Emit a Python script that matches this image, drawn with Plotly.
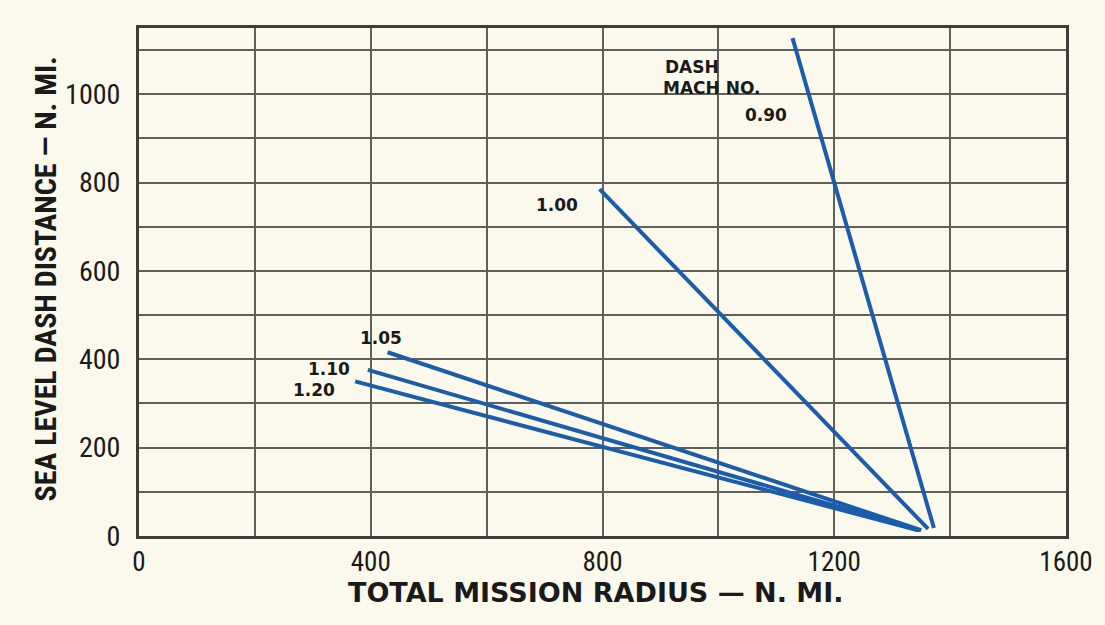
import plotly.graph_objects as go

# Data
mach_numbers = ["0.90", "1.00", "1.05", "1.10", "1.20"]
radius_start = [1128, 795, 429, 395, 373]
dist_start = [1127, 785, 416, 376, 350]
radius_end = [1372, 1362, 1350, 1347, 1345]
dist_end = [18, 16, 13, 13, 13]

label_x = [1083, 722, 417, 328, 302]
label_y = [953, 749, 448, 378, 330]

header_lines = ["DASH", "MACH NO."]
header_x = [955, 988]
header_y = [1062, 1014]

x_ticks = [0, 400, 800, 1200, 1600]
y_ticks = [0, 200, 400, 600, 800, 1000]

BG = "#FBF9EB"
GRID = "#60605a"
BORDER = "#3c3c38"
LINE = "#1b5dab"
TXT = "#1a1a1a"
COND = "Roboto Condensed, Liberation Sans Narrow, sans-serif"
WIDE = "DejaVu Sans, Verdana, sans-serif"

fig = go.Figure()
for m, xs, ys, xe, ye in zip(mach_numbers, radius_start, dist_start, radius_end, dist_end):
    fig.add_trace(go.Scatter(x=[xs, xe], y=[ys, ye], mode="lines", name=m,
                             line=dict(color=LINE, width=4), showlegend=False))

annotations = []
for m, lx, ly in zip(mach_numbers, label_x, label_y):
    annotations.append(dict(x=lx, y=ly, xref="x", yref="y", text=m, showarrow=False,
                            font=dict(family=WIDE, size=17, color=TXT, weight="bold")))
for t, hx, hy in zip(header_lines, header_x, header_y):
    annotations.append(dict(x=hx, y=hy, xref="x", yref="y", text=t, showarrow=False,
                            font=dict(family=WIDE, size=17, color=TXT, weight="bold")))
# axis titles
annotations.append(dict(x=(598 - 139) / 932, y=(536 - 592) / 508, xref="paper", yref="paper",
                        xanchor="center", yanchor="middle",
                        text="TOTAL MISSION RADIUS — N. MI.", showarrow=False,
                        font=dict(family=WIDE, size=27, color=TXT, weight="bold")))
annotations.append(dict(x=(44 - 139) / 932, y=(536 - 279) / 508, xref="paper", yref="paper",
                        xanchor="center", yanchor="middle", textangle=-90,
                        text="SEA LEVEL DASH DISTANCE — N. MI.", showarrow=False,
                        font=dict(family=COND, size=30, color=TXT, weight="bold")))

fig.update_layout(
    width=1097, height=617,
    margin=dict(l=131, r=34, t=20, b=89),
    paper_bgcolor=BG, plot_bgcolor=BG,
    annotations=annotations,
    xaxis=dict(range=[0, 1600], tickvals=x_ticks, ticktext=[str(v) for v in x_ticks],
               showgrid=True, gridcolor=GRID, gridwidth=1.6,
               minor=dict(dtick=200, tick0=0, showgrid=True, gridcolor=GRID, gridwidth=1.6),
               showline=True, linecolor=BORDER, linewidth=3, mirror=True,
               zeroline=False, ticks="", ticklabelstandoff=0,
               tickfont=dict(family=COND, size=27, color=TXT)),
    yaxis=dict(range=[0, 1150], tickvals=y_ticks, ticktext=[str(v) for v in y_ticks],
               showgrid=True, gridcolor=GRID, gridwidth=1.6,
               minor=dict(dtick=100, tick0=0, showgrid=True, gridcolor=GRID, gridwidth=1.6),
               showline=True, linecolor=BORDER, linewidth=3, mirror=True,
               zeroline=False, ticks="", ticklabelstandoff=10,
               tickfont=dict(family=COND, size=28, color=TXT)),
)

fig.write_html("out.html", post_script="document.body.style.background='" + BG + "';")
